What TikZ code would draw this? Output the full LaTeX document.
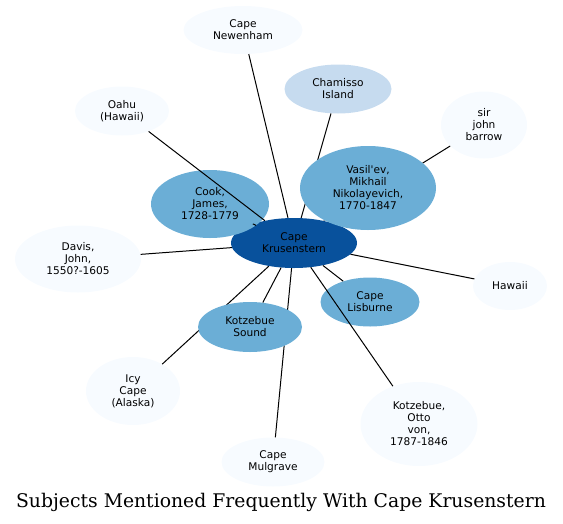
\documentclass[tikz,border=0pt]{standalone}
\usepackage{fontspec}
\usepackage{tikz}
\usetikzlibrary{shapes.geometric}
\newfontfamily\nodefont{DejaVu Sans}
\newfontfamily\titlefont{DejaVu Serif}
\definecolor{bluelight}{HTML}{F7FBFF}
\definecolor{bluepale}{HTML}{C6DBEF}
\definecolor{bluemid}{HTML}{6BAED6}
\definecolor{bluedark}{HTML}{08519C}
\pgfdeclarelayer{back}
\pgfdeclarelayer{front}
\pgfsetlayers{back,main,front}

\begin{document}
\begin{tikzpicture}[x=1pt,y=-1pt,
	subj/.style={ellipse,inner sep=0pt,align=center,font=\nodefont\fontsize{10.6}{12}\selectfont},
	sz/.style 2 args={minimum width=#1pt,minimum height=#2pt},
	lightsubj/.style={subj,fill=bluelight},
	palesubj/.style={subj,fill=bluepale},
	midsubj/.style={subj,fill=bluemid},
	mainsubj/.style={subj,fill=bluedark},
	link/.style={black,line width=1pt}]
	\useasboundingbox (0,0) rectangle (563,523);
	
	\begin{pgfonlayer}{back}
		\node[lightsubj,sz={119}{48}] at (243,30) (nw) {Cape\\Newenham};
		\node[palesubj,sz={107}{49}] at (338,89) (ch) {Chamisso\\Island};
		\node[lightsubj,sz={94}{49}] at (122,111) (oa) {Oahu\\(Hawaii)};
		\node[lightsubj,sz={86}{67}] at (484,125) (jb) {sir\\john\\barrow};
		\node[lightsubj,sz={126}{67}] at (78,259) (dv) {Davis,\\John,\\1550?-1605};
		\node[lightsubj,sz={74}{48}] at (510,286) (hw) {Hawaii};
		\node[lightsubj,sz={94}{68}] at (133,391) (ic) {Icy\\Cape\\(Alaska)};
		\node[lightsubj,sz={117}{84}] at (419,424) (ok) {Kotzebue,\\Otto\\von,\\1787-1846};
		\node[lightsubj,sz={103}{49}] at (273,462) (mg) {Cape\\Mulgrave};
		\node[mainsubj,sz={126}{50}] at (294,243) (kr) {Cape\\Krusenstern};
		\node[midsubj,sz={118}{68}] at (210,204) (ck) {Cook,\\James,\\1728-1779};
		\node[midsubj,sz={99}{49}] at (370,302) (lb) {Cape\\Lisburne};
	\end{pgfonlayer}
	
	\begin{pgfonlayer}{front}
		\node[midsubj,sz={136}{84}] at (368,188) (vs) {Vasil'ev,\\Mikhail\\Nikolayevich,\\1770-1847};
		\node[midsubj,sz={104}{50}] at (250,327) (ks) {Kotzebue\\Sound};
	\end{pgfonlayer}
	
	\foreach \t in {nw,ch,oa,jb,vs,ck,dv,hw,lb,ks,ic,ok,mg}
		\draw[link] (kr) -- (\t);
	
	\node[anchor=base] at (281,507) (title) {\titlefont\fontsize{18.8}{21}\selectfont Subjects Mentioned Frequently With Cape Krusenstern};
\end{tikzpicture}
\end{document}
